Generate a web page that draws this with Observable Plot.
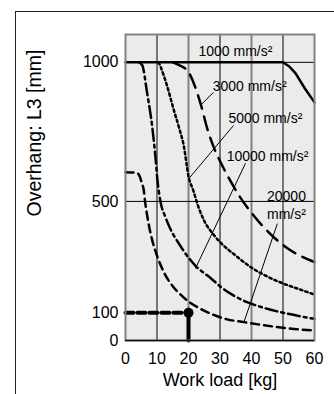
<!DOCTYPE html>
<html><head><meta charset="utf-8">
<script src="https://cdn.jsdelivr.net/npm/d3@7"></script>
<script src="https://cdn.jsdelivr.net/npm/@observablehq/plot@0.6"></script>
<style>
body{margin:0;background:#fff;}
#wrap{position:relative;width:334px;height:394px;overflow:hidden;}
#border{position:absolute;left:15px;top:11px;width:400px;height:400px;border-left:1px solid #222;border-top:1px solid #222;}
#chart{position:absolute;left:0;top:0;}
</style></head><body><div id="wrap"><div id="border"></div><div id="chart"></div></div>
<script>
// ---- data ----
const load1000 = [0, 50, 52, 54, 57, 60];
const overhang1000 = [1000, 1000, 985, 960, 905, 856];

const load3000 = [15, 17, 20, 22, 24, 26, 28, 30, 33, 36, 41, 47, 53, 60];
const overhang3000 = [1000, 990, 965, 915, 845, 760, 695, 645, 580, 522, 445, 372, 320, 282];

const load5000 = [10.5, 11.1, 13.2, 15.3, 17, 18.5, 20, 21.5, 23, 25, 28, 30, 35, 40, 45, 50, 55, 60];
const overhang5000 = [1000, 985, 915, 830, 765, 700, 590, 540, 485, 430, 380, 354, 305, 262, 230, 205, 185, 165];

const load10000 = [4.3, 5.3, 6.9, 8.5, 9.5, 10.2, 11.1, 12.7, 14.5, 16.4, 18, 20, 22.5, 25, 27, 30, 34, 38.6, 44, 49.2, 55, 60];
const overhang10000 = [1000, 990, 887, 767, 660, 570, 500, 443, 395, 358, 330, 298, 265, 242, 225, 195, 164, 138, 117, 102, 88, 78];

const load20000 = [0, 3.5, 4.5, 5.2, 5.8, 6.2, 6.8, 7.5, 8.5, 10, 12.2, 15, 17.5, 20, 23.8, 28, 32.3, 37.6, 42, 47, 52, 60];
const overhang20000 = [605, 603, 590, 565, 540, 500, 455, 410, 360, 305, 245, 195, 165, 140, 114, 92, 76, 66, 58, 50, 43, 36];

const xTicks = [0, 10, 20, 30, 40, 50, 60];
const yTicks = [0, 100, 500, 1000];

const accelLabels = ["1000 mm/s²", "3000 mm/s²", "5000 mm/s²", "10000 mm/s²", "20000\nmm/s²"];
const labelLoad = [34.9, 39.4, 44.4, 45.1, 51.1];
const labelOverhang = [1043, 917, 802, 665, 489];

const leaderFromLoad = [27.9, 34.3, 38.1, 48.2];
const leaderFromOverhang = [892, 773, 637, 420];
const leaderToLoad = [23.8, 20.1, 22.2, 37.6];
const leaderToOverhang = [845, 582, 259, 66];

const exampleLoad = [20];
const exampleOverhang = [100];

const xTitle = "Work load [kg]";
const yTitle = "Overhang: L3 [mm]";

// ---- build tables ----
const rows = (xs, ys) => xs.map((x, i) => ({x, y: ys[i]}));
const s1000 = rows(load1000, overhang1000);
const s3000 = rows(load3000, overhang3000);
const s5000 = rows(load5000, overhang5000);
const s10000 = rows(load10000, overhang10000);
const s20000 = rows(load20000, overhang20000);
const labels = accelLabels.map((t, i) => ({t, x: labelLoad[i], y: labelOverhang[i]}));
const leaders = leaderFromLoad.map((x, i) => ({x1: x, y1: leaderFromOverhang[i], x2: leaderToLoad[i], y2: leaderToOverhang[i]}));
const ex = exampleLoad.map((x, i) => ({x, y: exampleOverhang[i]}));
const exH = [{x: 0, y: exampleOverhang[0]}, {x: exampleLoad[0], y: exampleOverhang[0]}];
const exV = [{x: exampleLoad[0], y: 0}, {x: exampleLoad[0], y: exampleOverhang[0]}];

const BG = "#ebebeb";
const GRAY = "#828282";
const curveOpts = {x: "x", y: "y", stroke: "#000", strokeWidth: 2.5, curve: "monotone-x"};

const chart = Plot.plot({
  width: 334, height: 394,
  marginLeft: 125, marginRight: 20, marginTop: 34, marginBottom: 54,
  style: {fontFamily: "'Liberation Sans', Arial, Helvetica, sans-serif", fontSize: "16px", color: "#000", background: "transparent"},
  x: {domain: [0, 60]},
  y: {domain: [0, 1100]},
  marks: [
    Plot.frame({fill: BG}),
    Plot.ruleX([10, 30, 50], {stroke: "#000", strokeWidth: 1}),
    Plot.ruleX([20, 40], {stroke: GRAY, strokeWidth: 2}),
    Plot.ruleY([500, 1000], {stroke: "#000", strokeWidth: 1}),
    Plot.line(s20000, {...curveOpts, strokeDasharray: "8,5"}),
    Plot.line(s10000, {...curveOpts, strokeDasharray: "12,4,3,4"}),
    Plot.line(s5000, {...curveOpts, strokeDasharray: "2.5,3"}),
    Plot.line(s3000, {...curveOpts, strokeDasharray: "14,8"}),
    Plot.line(s1000, {...curveOpts, curve: "linear"}),
    Plot.link(leaders, {x1: "x1", y1: "y1", x2: "x2", y2: "y2", stroke: "#000", strokeWidth: 1}),
    Plot.text(labels, {x: "x", y: "y", text: "t", fontSize: 14, lineHeight: 1.25, fill: "#000", ariaLabel: "accel-labels"}),
    Plot.line(exH, {x: "x", y: "y", stroke: "#000", strokeWidth: 4, strokeDasharray: "8,4"}),
    Plot.line(exV, {x: "x", y: "y", stroke: "#000", strokeWidth: 4}),
    Plot.dot(ex, {x: "x", y: "y", r: 5, fill: "#000", stroke: "none"}),
    Plot.frame({stroke: GRAY, strokeWidth: 2}),
    Plot.ruleY([0], {stroke: "#111", strokeWidth: 1.5}),
    Plot.axisX({ticks: xTicks, tickSize: 0, tickPadding: 12, tickFormat: d => String(d), label: null, fontSize: 16}),
    Plot.axisY({ticks: yTicks, tickSize: 0, tickPadding: 7, tickFormat: d => String(d), label: null, fontSize: 16}),
    Plot.text([xTitle], {frameAnchor: "bottom", dy: 45, fontSize: 18, fill: "#000"}),
    Plot.text([yTitle], {frameAnchor: "left", rotate: -90, dx: -91, dy: 29, fontSize: 19.5, fill: "#000", ariaLabel: "y-title"})
  ]
});
document.getElementById("chart").appendChild(chart);

// label background boxes
chart.querySelectorAll('g[aria-label="accel-labels"] text').forEach(t => {
  const b = t.getBBox();
  const r = document.createElementNS("http://www.w3.org/2000/svg", "rect");
  r.setAttribute("x", b.x - 3); r.setAttribute("y", b.y - 1);
  r.setAttribute("width", b.width + 6); r.setAttribute("height", b.height + 2);
  r.setAttribute("fill", BG);
  if (t.getAttribute("transform")) r.setAttribute("transform", t.getAttribute("transform"));
  t.parentNode.insertBefore(r, t);
});
// bold "L3" in the y title
chart.querySelectorAll('g[aria-label="y-title"] text').forEach(t => {
  const parts = yTitle.split("L3");
  t.textContent = "";
  const add = (s, bold) => {
    const sp = document.createElementNS("http://www.w3.org/2000/svg", "tspan");
    sp.textContent = s;
    if (bold) sp.setAttribute("style", "font-weight:700");
    t.appendChild(sp);
  };
  add(parts[0], false); add("L3", true); add(parts[1], false);
});
</script>
</body></html>
